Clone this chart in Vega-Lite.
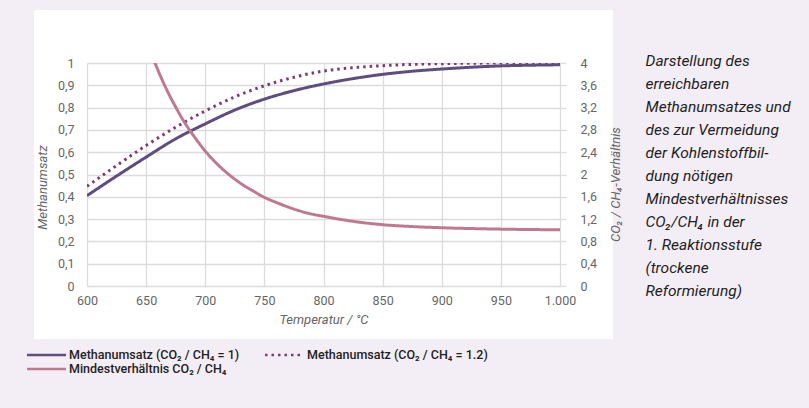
{
  "$schema": "https://vega.github.io/schema/vega-lite/v6.json",
  "width": 473,
  "height": 223,
  "autosize": {"type": "none"},
  "padding": {"left": 87, "top": 63, "right": 249, "bottom": 122},
  "background": "#f3edf5",
  "title": {
    "text": ["Darstellung des", "erreichbaren", "Methanumsatzes und", "des zur Vermeidung", "der Kohlenstoffbil-", "dung nötigen", "Mindestverhältnisses", "CO₂/CH₄ in der", "1. Reaktionsstufe", "(trockene", "Reformierung)"],
    "orient": "right",
    "anchor": "start",
    "angle": 0,
    "align": "left",
    "baseline": "top",
    "offset": 18,
    "dx": -140,
    "dy": -9,
    "frame": "group",
    "font": "Roboto",
    "fontSize": 15.5,
    "fontStyle": "italic",
    "fontWeight": "normal",
    "color": "#1e1e1e",
    "lineHeight": 23
  },
  "datasets": {
    "umsatz": [
      {"T": 600, "serie": "Methanumsatz (CO₂ / CH₄ = 1)", "wert": 0.405},
      {"T": 625, "serie": "Methanumsatz (CO₂ / CH₄ = 1)", "wert": 0.493},
      {"T": 650, "serie": "Methanumsatz (CO₂ / CH₄ = 1)", "wert": 0.578},
      {"T": 675, "serie": "Methanumsatz (CO₂ / CH₄ = 1)", "wert": 0.66},
      {"T": 700, "serie": "Methanumsatz (CO₂ / CH₄ = 1)", "wert": 0.727},
      {"T": 725, "serie": "Methanumsatz (CO₂ / CH₄ = 1)", "wert": 0.789},
      {"T": 750, "serie": "Methanumsatz (CO₂ / CH₄ = 1)", "wert": 0.838},
      {"T": 775, "serie": "Methanumsatz (CO₂ / CH₄ = 1)", "wert": 0.876},
      {"T": 800, "serie": "Methanumsatz (CO₂ / CH₄ = 1)", "wert": 0.906},
      {"T": 825, "serie": "Methanumsatz (CO₂ / CH₄ = 1)", "wert": 0.93},
      {"T": 850, "serie": "Methanumsatz (CO₂ / CH₄ = 1)", "wert": 0.949},
      {"T": 875, "serie": "Methanumsatz (CO₂ / CH₄ = 1)", "wert": 0.963},
      {"T": 900, "serie": "Methanumsatz (CO₂ / CH₄ = 1)", "wert": 0.973},
      {"T": 925, "serie": "Methanumsatz (CO₂ / CH₄ = 1)", "wert": 0.981},
      {"T": 950, "serie": "Methanumsatz (CO₂ / CH₄ = 1)", "wert": 0.987},
      {"T": 975, "serie": "Methanumsatz (CO₂ / CH₄ = 1)", "wert": 0.99},
      {"T": 1000, "serie": "Methanumsatz (CO₂ / CH₄ = 1)", "wert": 0.992},
      {"T": 600, "serie": "Methanumsatz (CO₂ / CH₄ = 1.2)", "wert": 0.447},
      {"T": 625, "serie": "Methanumsatz (CO₂ / CH₄ = 1.2)", "wert": 0.54},
      {"T": 650, "serie": "Methanumsatz (CO₂ / CH₄ = 1.2)", "wert": 0.63},
      {"T": 675, "serie": "Methanumsatz (CO₂ / CH₄ = 1.2)", "wert": 0.712},
      {"T": 700, "serie": "Methanumsatz (CO₂ / CH₄ = 1.2)", "wert": 0.785},
      {"T": 725, "serie": "Methanumsatz (CO₂ / CH₄ = 1.2)", "wert": 0.848},
      {"T": 750, "serie": "Methanumsatz (CO₂ / CH₄ = 1.2)", "wert": 0.898},
      {"T": 775, "serie": "Methanumsatz (CO₂ / CH₄ = 1.2)", "wert": 0.936},
      {"T": 800, "serie": "Methanumsatz (CO₂ / CH₄ = 1.2)", "wert": 0.964},
      {"T": 825, "serie": "Methanumsatz (CO₂ / CH₄ = 1.2)", "wert": 0.979},
      {"T": 850, "serie": "Methanumsatz (CO₂ / CH₄ = 1.2)", "wert": 0.988},
      {"T": 875, "serie": "Methanumsatz (CO₂ / CH₄ = 1.2)", "wert": 0.994},
      {"T": 900, "serie": "Methanumsatz (CO₂ / CH₄ = 1.2)", "wert": 0.997},
      {"T": 925, "serie": "Methanumsatz (CO₂ / CH₄ = 1.2)", "wert": 0.999},
      {"T": 950, "serie": "Methanumsatz (CO₂ / CH₄ = 1.2)", "wert": 1.0},
      {"T": 975, "serie": "Methanumsatz (CO₂ / CH₄ = 1.2)", "wert": 1.0},
      {"T": 1000, "serie": "Methanumsatz (CO₂ / CH₄ = 1.2)", "wert": 1.0}
    ],
    "verhaeltnis": [
      {"T": 650, "serie": "Mindestverhältnis CO₂ / CH₄", "wert": 4.42},
      {"T": 657.5, "serie": "Mindestverhältnis CO₂ / CH₄", "wert": 4.0},
      {"T": 665, "serie": "Mindestverhältnis CO₂ / CH₄", "wert": 3.63},
      {"T": 670, "serie": "Mindestverhältnis CO₂ / CH₄", "wert": 3.41},
      {"T": 675, "serie": "Mindestverhältnis CO₂ / CH₄", "wert": 3.21},
      {"T": 680, "serie": "Mindestverhältnis CO₂ / CH₄", "wert": 3.02},
      {"T": 687, "serie": "Mindestverhältnis CO₂ / CH₄", "wert": 2.79},
      {"T": 690, "serie": "Mindestverhältnis CO₂ / CH₄", "wert": 2.7},
      {"T": 700, "serie": "Mindestverhältnis CO₂ / CH₄", "wert": 2.42},
      {"T": 710, "serie": "Mindestverhältnis CO₂ / CH₄", "wert": 2.19},
      {"T": 720, "serie": "Mindestverhältnis CO₂ / CH₄", "wert": 2.0},
      {"T": 730, "serie": "Mindestverhältnis CO₂ / CH₄", "wert": 1.84},
      {"T": 740, "serie": "Mindestverhältnis CO₂ / CH₄", "wert": 1.71},
      {"T": 750, "serie": "Mindestverhältnis CO₂ / CH₄", "wert": 1.59},
      {"T": 760, "serie": "Mindestverhältnis CO₂ / CH₄", "wert": 1.5},
      {"T": 775, "serie": "Mindestverhältnis CO₂ / CH₄", "wert": 1.38},
      {"T": 790, "serie": "Mindestverhältnis CO₂ / CH₄", "wert": 1.29},
      {"T": 800, "serie": "Mindestverhältnis CO₂ / CH₄", "wert": 1.25},
      {"T": 825, "serie": "Mindestverhältnis CO₂ / CH₄", "wert": 1.16},
      {"T": 850, "serie": "Mindestverhältnis CO₂ / CH₄", "wert": 1.1},
      {"T": 875, "serie": "Mindestverhältnis CO₂ / CH₄", "wert": 1.066},
      {"T": 900, "serie": "Mindestverhältnis CO₂ / CH₄", "wert": 1.045},
      {"T": 950, "serie": "Mindestverhältnis CO₂ / CH₄", "wert": 1.02},
      {"T": 1000, "serie": "Mindestverhältnis CO₂ / CH₄", "wert": 1.008}
    ]
  },
  "layer": [
    {
      "data": {"name": "umsatz"},
      "mark": {"type": "line", "strokeWidth": 3, "interpolate": "monotone", "clip": true},
      "encoding": {
        "x": {
          "field": "T", "type": "quantitative",
          "scale": {"domain": [600, 1000], "nice": false, "zero": false},
          "axis": {"values": [600, 650, 700, 750, 800, 850, 900, 950, 1000], "format": ",d", "title": "Temperatur / °C", "tickSize": 0, "ticks": false, "labelFlush": false, "labelPadding": 8, "titlePadding": 7, "grid": true}
        },
        "y": {
          "field": "wert", "type": "quantitative",
          "scale": {"domain": [0, 1], "nice": false},
          "axis": {"orient": "left", "values": [0, 0.1, 0.2, 0.3, 0.4, 0.5, 0.6, 0.7, 0.8, 0.9, 1], "format": ".1~f", "title": "Methanumsatz", "ticks": false, "tickSize": 0, "labelPadding": 13, "titlePadding": 8, "titleY": 124, "grid": true}
        },
        "color": {
          "field": "serie", "type": "nominal",
          "scale": {"domain": ["Methanumsatz (CO₂ / CH₄ = 1)", "Methanumsatz (CO₂ / CH₄ = 1.2)", "Mindestverhältnis CO₂ / CH₄"], "range": ["#5e4d7f", "#7d3b73", "#c07890"]},
          "legend": {"orient": "none", "legendX": -60, "legendY": 285.5, "columns": 2, "direction": "horizontal", "title": null}
        },
        "strokeDash": {
          "field": "serie", "type": "nominal",
          "scale": {"domain": ["Methanumsatz (CO₂ / CH₄ = 1)", "Methanumsatz (CO₂ / CH₄ = 1.2)", "Mindestverhältnis CO₂ / CH₄"], "range": [[1, 0], [2.5, 4], [1, 0]]},
          "legend": {"orient": "none", "legendX": -60, "legendY": 285.5, "columns": 2, "direction": "horizontal", "title": null}
        }
      }
    },
    {
      "data": {"name": "verhaeltnis"},
      "mark": {"type": "line", "strokeWidth": 3, "interpolate": "monotone", "clip": true},
      "encoding": {
        "x": {"field": "T", "type": "quantitative"},
        "y": {
          "field": "wert", "type": "quantitative",
          "scale": {"domain": [0, 4], "nice": false},
          "axis": {"orient": "right", "values": [0, 0.4, 0.8, 1.2, 1.6, 2, 2.4, 2.8, 3.2, 3.6, 4], "format": ".1~f", "title": "CO₂ / CH₄-Verhältnis", "grid": false, "ticks": true, "tickSize": 6, "tickColor": "#dcdcdc", "tickWidth": 1.3, "labelPadding": 14, "titlePadding": 13, "titleAngle": -90, "titleBaseline": "top", "titleY": 121}
        },
        "color": {"field": "serie", "type": "nominal"},
        "strokeDash": {"field": "serie", "type": "nominal"}
      }
    }
  ],
  "resolve": {"scale": {"y": "independent"}},
  "config": {
    "font": "Roboto",
    "locale": {"number": {"decimal": ",", "thousands": ".", "grouping": [3], "currency": ["", " €"]}},
    "view": {"fill": "white", "stroke": "white", "strokeWidth": 106},
    "axis": {
      "domain": false,
      "labelFont": "Roboto",
      "labelFontSize": 12.5,
      "labelColor": "#666666",
      "titleFont": "Roboto",
      "titleFontSize": 13,
      "titleFontStyle": "italic",
      "titleFontWeight": "normal",
      "titleColor": "#666666",
      "gridColor": "#dcdcdc",
      "gridWidth": 1.3
    },
    "legend": {
      "symbolType": "M-4,0H4",
      "symbolSize": 95,
      "symbolStrokeWidth": 2.5,
      "symbolOffset": 13,
      "labelOffset": 16,
      "columnPadding": 20,
      "rowPadding": 1,
      "padding": 0,
      "labelFont": "Roboto",
      "labelFontSize": 12.5,
      "labelFontWeight": 500,
      "labelColor": "#222222",
      "labelLimit": 300
    }
  }
}
